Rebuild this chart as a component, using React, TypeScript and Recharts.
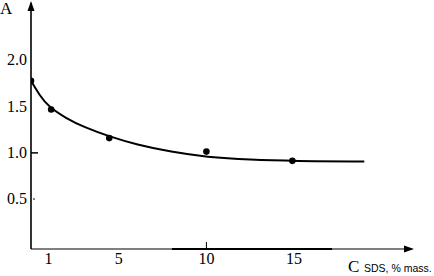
import React from 'react';
import { ComposedChart, Line, Scatter, XAxis, YAxis, ReferenceLine } from 'recharts';

// fitted curve
const curveC = [0, 0.5, 1, 2, 3, 4.5, 6, 8, 10, 12.5, 15, 19];
const curveA = [1.78, 1.62, 1.5, 1.375, 1.28, 1.175, 1.09, 1.01, 0.955, 0.925, 0.912, 0.906];

// measured points
const pointC = [0, 1.15, 4.46, 10.0, 14.9];
const pointA = [1.78, 1.47, 1.16, 1.014, 0.914];

const xTicks = [1, 5, 10, 15];
const yTicks = [0.5, 1.0, 1.5, 2.0];

const curve = curveC.map((c, i) => ({ c, a: curveA[i] }));
const points = pointC.map((c, i) => ({ c, a: pointA[i] }));

const SERIF = '"Liberation Serif", "Times New Roman", serif';

const XTick = ({ x, y, payload }: any) => (
    <g>
        {payload.value === 10 && <line x1={x} x2={x} y1={y - 7} y2={y - 1} stroke="#000" strokeWidth={1} />}
        <text x={x} y={y + 15} textAnchor="middle" fontFamily={SERIF} fontSize={16} fill="#000">
            {payload.value}
        </text>
    </g>
);

const YTick = ({ x, y, payload }: any) => {
    const ax = x + 4; // axis line position
    return (
        <g>
            {payload.value === 1 && <line x1={ax} x2={ax + 7} y1={y} y2={y} stroke="#000" strokeWidth={1.5} />}
            {payload.value === 0.5 && <circle cx={ax + 3} cy={y} r={0.8} fill="#000" />}
            <text x={x} y={y + 5} textAnchor="end" fontFamily={SERIF} fontSize={16} fill="#000">
                {payload.value.toFixed(1)}
            </text>
        </g>
    );
};

const Dot = ({ cx, cy }: any) => <circle cx={cx} cy={cy} r={3.3} fill="#000" />;

export default function App() {
    return (
        <div style={{ position: 'absolute', left: 0, top: 0, width: 434, height: 276, background: '#fff' }}>
            <ComposedChart width={434} height={276} margin={{ top: 3, right: 22, bottom: 0, left: 0 }}>
                <XAxis
                    dataKey="c"
                    type="number"
                    domain={[0, 21.72]}
                    ticks={xTicks}
                    tick={<XTick />}
                    tickLine={false}
                    tickSize={0}
                    tickMargin={0}
                    height={27}
                    axisLine={{ stroke: '#000', strokeWidth: 1.2 }}
                    allowDataOverflow
                />
                <YAxis
                    dataKey="a"
                    type="number"
                    domain={[-0.04, 2.622]}
                    ticks={yTicks}
                    tick={<YTick />}
                    tickLine={false}
                    tickSize={0}
                    tickMargin={4}
                    width={31}
                    axisLine={{ stroke: '#000', strokeWidth: 1.6 }}
                    allowDataOverflow
                />
                <ReferenceLine
                    segment={[{ x: 8.04, y: -0.04 }, { x: 17.16, y: -0.04 }]}
                    stroke="#000"
                    strokeWidth={2.2}
                    ifOverflow="visible"
                />
                <Line
                    data={curve}
                    dataKey="a"
                    type="basis"
                    stroke="#000"
                    strokeWidth={2}
                    dot={false}
                    isAnimationActive={false}
                />
                <Scatter data={points} dataKey="a" fill="#000" shape={<Dot />} isAnimationActive={false} />
            </ComposedChart>
            <svg width={434} height={276} style={{ position: 'absolute', left: 0, top: 0, pointerEvents: 'none' }}>
                {/* axis arrow heads */}
                <polygon points="31,1 27.5,11 34.5,11" fill="#000" />
                <polygon points="414,249 404,245.5 404,252.5" fill="#000" />
                <text x={0} y={14} fontFamily={SERIF} fontSize={17} fill="#000">A</text>
                <text x={348} y={272} fontFamily={SERIF} fontSize={17} fill="#000">C</text>
                <text x={364} y={272} fontFamily='"Liberation Sans", Arial, sans-serif' fontSize={10.5} fill="#000">
                    SDS, % mass.
                </text>
            </svg>
        </div>
    );
}
